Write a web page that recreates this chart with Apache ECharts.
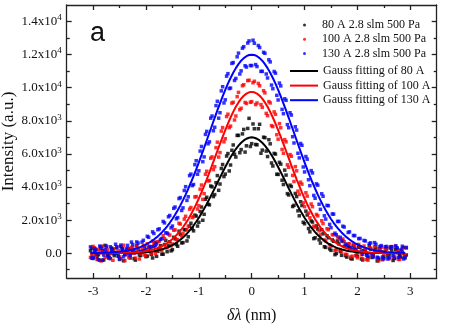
<!DOCTYPE html>
<html><head><meta charset="utf-8">
<script src="https://cdn.jsdelivr.net/npm/echarts@6/dist/echarts.min.js"></script>
<style>html,body{margin:0;padding:0;background:#fff}#c{width:463px;height:324px}</style>
</head><body><div id="c"></div>
<script>
// wavelength offset (nm), grid 1 (also used by the fits)
const dl = [-3.05,-3,-2.95,-2.9,-2.85,-2.8,-2.75,-2.7,-2.65,-2.6,
 -2.55,-2.5,-2.45,-2.4,-2.35,-2.3,-2.25,-2.2,-2.15,-2.1,
 -2.05,-2,-1.95,-1.9,-1.85,-1.8,-1.75,-1.7,-1.65,-1.6,
 -1.55,-1.5,-1.45,-1.4,-1.35,-1.3,-1.25,-1.2,-1.15,-1.1,
 -1.05,-1,-0.95,-0.9,-0.85,-0.8,-0.75,-0.7,-0.65,-0.6,
 -0.55,-0.5,-0.45,-0.4,-0.35,-0.3,-0.25,-0.2,-0.15,-0.1,
 -0.05,0,0.05,0.1,0.15,0.2,0.25,0.3,0.35,0.4,
 0.45,0.5,0.55,0.6,0.65,0.7,0.75,0.8,0.85,0.9,
 0.95,1,1.05,1.1,1.15,1.2,1.25,1.3,1.35,1.4,
 1.45,1.5,1.55,1.6,1.65,1.7,1.75,1.8,1.85,1.9,
 1.95,2,2.05,2.1,2.15,2.2,2.25,2.3,2.35,2.4,
 2.45,2.5,2.55,2.6,2.65,2.7,2.75,2.8,2.85,2.9];
// wavelength offset (nm), grid 2 (interleaved measured points)
const dl2 = [-3.025,-2.975,-2.925,-2.875,-2.825,-2.775,-2.725,-2.675,-2.625,-2.575,
 -2.525,-2.475,-2.425,-2.375,-2.325,-2.275,-2.225,-2.175,-2.125,-2.075,
 -2.025,-1.975,-1.925,-1.875,-1.825,-1.775,-1.725,-1.675,-1.625,-1.575,
 -1.525,-1.475,-1.425,-1.375,-1.325,-1.275,-1.225,-1.175,-1.125,-1.075,
 -1.025,-0.975,-0.925,-0.875,-0.825,-0.775,-0.725,-0.675,-0.625,-0.575,
 -0.525,-0.475,-0.425,-0.375,-0.325,-0.275,-0.225,-0.175,-0.125,-0.075,
 -0.025,0.025,0.075,0.125,0.175,0.225,0.275,0.325,0.375,0.425,
 0.475,0.525,0.575,0.625,0.675,0.725,0.775,0.825,0.875,0.925,
 0.975,1.025,1.075,1.125,1.175,1.225,1.275,1.325,1.375,1.425,
 1.475,1.525,1.575,1.625,1.675,1.725,1.775,1.825,1.875,1.925,
 1.975,2.025,2.075,2.125,2.175,2.225,2.275,2.325,2.375,2.425,
 2.475,2.525,2.575,2.625,2.675,2.725,2.775,2.825,2.875,2.925];
// measured intensity on grid 1
const s80 = [150,-320,240,-90,380,-410,60,-230,310,-150,
 20,-380,270,-60,190,-290,120,-420,230,-140,
 140,-210,360,-80,410,-190,280,-60,520,90,
 690,210,870,420,1130,640,1420,990,1810,1350,
 2240,1870,2790,2350,3380,2920,4010,3540,4690,4180,
 5360,4780,6020,5330,6540,5810,7120,6260,7480,6490,
 8150,6620,7520,6550,7790,6230,6980,5840,6610,5270,
 5990,4760,5380,4150,4720,3520,4030,2890,3420,2260,
 2880,1780,2310,1290,1880,930,1460,610,1170,350,
 930,170,720,-20,560,-130,410,-240,330,-350,
 290,-180,360,-410,130,-270,240,-150,320,-380,
 80,-230,290,-60,190,-320,260,-140,70,-290];
const s100 = [-260,410,-130,220,-470,90,330,-310,160,-40,
 390,-220,50,-450,280,-120,350,-300,180,-50,
 460,-160,330,-20,590,110,720,160,880,330,
 1090,560,1410,820,1760,1190,2230,1640,2760,2210,
 3420,2870,4120,3600,4950,4390,5820,5230,6710,6080,
 7590,6920,8400,7680,9120,8290,9720,8760,10180,9050,
 10450,9160,10390,9080,10120,8820,9690,8310,9080,7650,
 8390,6890,7580,6040,6730,5190,5860,4330,4980,3550,
 4170,2810,3450,2140,2810,1570,2260,1110,1790,740,
 1420,430,1120,210,870,60,690,-90,560,-180,
 450,-280,390,-350,240,-420,310,-190,170,-460,
 360,-70,230,-330,400,-210,120,-380,290,-150];
const s130 = [380,-240,170,-390,290,-110,430,-280,200,-60,
 360,-330,240,-90,470,-120,520,30,610,90,
 780,210,960,380,1190,560,1470,880,1830,1210,
 2280,1640,2790,2150,3360,2740,4020,3410,4780,4150,
 5590,4980,6450,5820,7360,6730,8290,7610,9180,8490,
 10060,9270,10850,9980,11520,10560,12090,11020,12480,11250,
 12830,11340,12690,11280,12430,10990,12080,10590,11560,9940,
 10880,9260,10110,8430,9240,7580,8350,6660,7440,5760,
 6520,4910,5680,4080,4850,3320,4110,2650,3440,2060,
 2870,1540,2360,1110,1920,760,1580,470,1290,250,
 1060,70,890,-60,740,-170,620,-230,540,-290,
 460,-340,410,-260,380,-310,330,-180,420,-230];
// measured intensity on grid 2
const s80b = [310,80,-260,-420,150,470,-90,-330,240,20,
 -180,400,-460,120,270,0,-330,450,-110,100,
 390,-180,240,-290,660,110,450,-60,770,450,
 140,960,520,1330,620,1420,740,1630,1480,2300,
 1640,2520,1990,3260,2960,4060,3420,4260,3800,5120,
 4630,5870,4970,6220,5980,7120,6070,7210,6110,7540,
 6450,7810,6570,7520,6040,7010,6170,6860,5450,6030,
 4770,5490,4410,5020,3600,4110,2820,3610,2560,3110,
 1870,2540,1490,1950,880,1650,810,1420,390,1050,
 260,800,-90,740,100,720,-150,410,-320,470,
 -130,370,-350,170,-30,460,-260,190,-470,260,
 -350,90,-160,380,-440,210,30,-250,340,-110];
const s100b = [-150,330,-380,70,420,-260,190,-20,-430,270,
 150,-330,480,-90,-250,350,-10,450,-350,270,
 -110,570,100,730,-30,690,250,1060,350,1150,
 440,1390,820,1810,1040,2060,1420,2660,2150,3400,
 2670,3870,3250,4770,4370,5740,5050,6380,5810,7380,
 6730,8260,7590,9070,8050,9460,8670,10120,9110,10430,
 9120,10300,8980,10260,8980,9820,8450,9160,7710,8540,
 7160,7830,6270,6860,5340,5960,4700,5230,3750,4290,
 3040,3650,2420,2970,1630,2340,1350,1960,800,1480,
 510,1120,160,980,210,860,-60,570,-230,540,
 -160,530,-100,430,-380,310,-80,410,-310,220,
 -400,280,-80,350,-250,430,-370,150,-20,310];
const s130b = [-300,260,-70,430,-430,210,-170,390,40,540,
 -170,490,-220,260,0,670,140,680,60,670,
 170,1020,410,1290,480,1420,830,1920,1230,2200,
 1530,2710,2080,3300,2580,3790,3190,4690,4080,5350,
 4770,6170,5530,7180,6610,8160,7400,8920,8160,9810,
 9080,10700,9950,11470,10440,11870,10830,12390,11330,12700,
 11340,12870,11400,12550,10990,12140,10830,11690,10160,10980,
 9540,10280,8690,9330,7770,8490,7040,7640,6040,6630,
 5210,5840,4440,4990,3490,4190,2960,3590,2260,2890,
 1740,2370,1210,1920,960,1630,540,1250,350,1070,
 210,880,140,770,-130,580,-30,640,-240,400,
 -230,390,-350,310,-120,440,-250,210,-350,350];
// Gauss fit curves on grid 1
const f80 = [0,0,0,0,1,1,1,1,2,2,
 3,4,6,7,10,13,17,23,29,38,
 48,62,78,98,122,151,187,229,279,338,
 408,489,582,688,810,947,1102,1273,1464,1672,
 1899,2143,2406,2684,2977,3282,3597,3920,4246,4572,
 4894,5207,5508,5792,6055,6293,6501,6677,6816,6918,
 6979,7000,6979,6918,6816,6677,6501,6293,6055,5792,
 5508,5207,4894,4572,4246,3920,3597,3282,2977,2684,
 2406,2143,1899,1672,1464,1273,1102,947,810,688,
 582,489,408,338,279,229,187,151,122,98,
 78,62,48,38,29,23,17,13,10,7,
 6,4,3,2,2,1,1,1,1,0];
const f100 = [0,0,1,1,2,2,3,4,5,6,
 9,11,15,19,25,32,41,52,66,83,
 103,129,160,197,241,294,356,428,514,612,
 725,856,1004,1171,1359,1568,1800,2055,2333,2635,
 2960,3306,3675,4061,4464,4881,5307,5740,6175,6607,
 7030,7441,7832,8201,8540,8846,9112,9338,9516,9645,
 9724,9750,9724,9645,9516,9338,9112,8846,8540,8201,
 7832,7441,7030,6607,6175,5740,5307,4881,4464,4061,
 3675,3306,2960,2635,2333,2055,1800,1568,1359,1171,
 1004,856,725,612,514,428,356,294,241,197,
 160,129,103,83,66,52,41,32,25,19,
 15,11,9,6,5,4,3,2,2,1];
const f130 = [8,11,13,17,21,26,33,40,50,61,
 75,91,110,133,161,193,230,273,324,383,
 450,527,615,715,828,955,1097,1255,1430,1624,
 1836,2069,2322,2596,2890,3205,3540,3896,4271,4663,
 5071,5494,5929,6373,6824,7278,7733,8183,8627,9058,
 9474,9871,10244,10590,10904,11185,11428,11631,11791,11906,
 11977,12000,11977,11906,11791,11631,11428,11185,10904,10590,
 10244,9871,9474,9058,8627,8183,7733,7278,6824,6373,
 5929,5494,5071,4663,4271,3896,3540,3205,2890,2596,
 2322,2069,1836,1624,1430,1255,1097,955,828,715,
 615,527,450,383,324,273,230,193,161,133,
 110,91,75,61,50,40,33,26,21,17];

const names = ['80 A 2.8 slm 500 Pa','100 A 2.8 slm 500 Pa','130 A 2.8 slm 500 Pa'];
const fitNames = ['Gauss fitting of 80 A','Gauss fitting of 100 A','Gauss fitting of 130 A'];
const colors = ['#000000','#ff0000','#0000ff'];
const xTicks = [-3,-2,-1,0,1,2,3];
const xMinor = [-2.5,-1.5,-0.5,0.5,1.5,2.5];
const yTicks = [0,2000,4000,6000,8000,10000,12000,14000];
const yMant = ['0.0','2.0x10','4.0x10','6.0x10','8.0x10','1.0x10','1.2x10','1.4x10'];
const yExp = ['','3','3','3','3','4','4','4'];
const yMinor = [-1000,1000,3000,5000,7000,9000,11000,13000];

const serif = 'Liberation Serif';
const axisCol = '#222';
const lineSt = {color: axisCol, width: 1.3};

function xAx(pos, ticks, len, showLine, labels){
  return {type:'value', min:-3.5, max:3.5, position:pos,
    axisLine:{show:showLine, onZero:false, lineStyle:lineSt},
    axisTick:{show:true, inside:true, length:len, customValues:ticks, lineStyle:lineSt},
    axisLabel: labels ? {show:true, customValues:ticks, margin:7, color:'#111', fontFamily:serif, fontSize:13,
      formatter: v => String(Math.round(v))} : {show:false},
    splitLine:{show:false}};
}
function yAx(pos, ticks, len, showLine, labels){
  return {type:'value', min:-1500, max:15000, position:pos,
    axisLine:{show:showLine, onZero:false, lineStyle:lineSt},
    axisTick:{show:true, inside:true, length:len, customValues:ticks, lineStyle:lineSt},
    axisLabel: labels ? {show:true, customValues:ticks, margin:5, color:'#111',
      formatter: v => { const i = yTicks.indexOf(Math.round(v)); return i<0 ? '' : (yExp[i] ? '{m|'+yMant[i]+'}{e|'+yExp[i]+'}' : '{m|'+yMant[i]+'}'); },
      rich:{m:{fontFamily:serif, fontSize:13, color:'#111', lineHeight:16},
            e:{fontFamily:serif, fontSize:9, color:'#111', verticalAlign:'top', lineHeight:10}}} : {show:false},
    splitLine:{show:false}};
}

const xMain = xAx('bottom', xTicks, 5, true, true);
xMain.name = '{i|δλ}{n| (nm)}';
xMain.nameLocation = 'middle';
xMain.nameGap = 30;
xMain.nameMoveOverlap = false;
xMain.nameTextStyle = {rich:{i:{fontFamily:serif, fontStyle:'italic', fontSize:16, color:'#111'}, n:{fontFamily:serif, fontSize:16, color:'#111'}}};
const yMain = yAx('left', yTicks, 5, true, true);
yMain.name = 'Intensity (a.u.)';
yMain.nameLocation = 'middle';
yMain.nameGap = 50;
yMain.nameMoveOverlap = false;
yMain.nameTextStyle = {fontFamily:serif, fontSize:17, color:'#111'};

const series = [];
[[s80,s80b],[s100,s100b],[s130,s130b]].forEach((pair, k) => {
  const pts = dl.map((x,i)=>[x, pair[0][i]]).concat(dl2.map((x,i)=>[x, pair[1][i]]));
  series.push({type:'scatter', name:names[k], xAxisIndex:0, yAxisIndex:0, symbol:'rect', symbolSize:3.5,
    itemStyle:{color:colors[k]}, data: pts, z:2, silent:true});
});
[f80, f100, f130].forEach((arr, k) => {
  series.push({type:'line', name:fitNames[k], xAxisIndex:0, yAxisIndex:0, showSymbol:false, symbol:'none',
    lineStyle:{color:colors[k], width:2}, itemStyle:{color:colors[k]}, data: dl.map((x,i)=>[x, arr[i]]), z:3, silent:true});
});

const chart = echarts.init(document.getElementById('c'), null, {renderer:'canvas'});
chart.setOption({
  animation:false,
  backgroundColor:'#fff',
  grid:{left:66.7, right:26.3, top:5, bottom:46, containLabel:false, outerBoundsMode:'none'},
  xAxis:[xMain, xAx('bottom', xMinor, 3, false, false), xAx('top', xTicks, 5, true, false), xAx('top', xMinor, 3, false, false)],
  yAxis:[yMain, yAx('left', yMinor, 3, false, false), yAx('right', yTicks, 5, true, false), yAx('right', yMinor, 3, false, false)],
  legend:[
    {orient:'vertical', left:298, top:13, padding:5, itemWidth:3, itemHeight:3, itemGap:0.3, selectedMode:false,
      data: names.map(n=>({name:n, icon:'circle'})),
      textStyle:{fontFamily:serif, fontSize:12, color:'#111', lineHeight:14, padding:[0,0,0,11]}},
    {orient:'vertical', left:285, top:59, padding:5, itemWidth:28, itemHeight:2, itemGap:0.6, selectedMode:false,
      data: fitNames.map(n=>({name:n, icon:'rect'})),
      textStyle:{fontFamily:serif, fontSize:12, color:'#111', lineHeight:14}}
  ],
  graphic:[{type:'text', left:90, top:20, style:{text:'a', fontFamily:'Liberation Sans', fontSize:27, fill:'#111'}}],
  series
});
</script></body></html>
